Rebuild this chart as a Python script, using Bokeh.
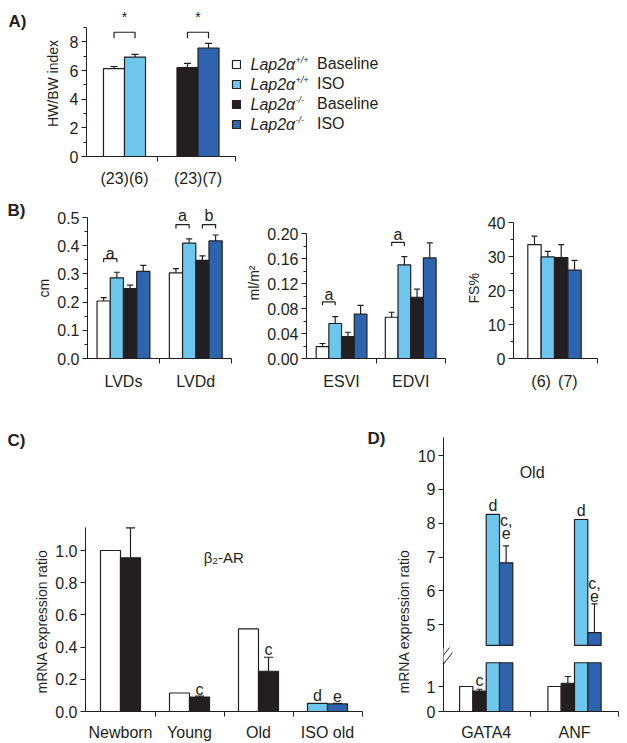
import math
from bokeh.plotting import figure
from bokeh.layouts import row, column
from bokeh.models import (FixedTicker, Whisker, TeeHead, Label, Legend, LegendItem,
                          ColumnDataSource, Range1d, NumeralTickFormatter, Arrow,
                          BoxAnnotation, Title)
from bokeh.core.properties import value
from bokeh.embed import file_html
from bokeh.resources import INLINE

# ---------------------------------------------------------------- data
# Panel A: heart weight / body weight index
a_n_labels = ["(23)(6)", "(23)(7)"]
a_baseline = [6.13, 6.20]          # Lap2a+/+ baseline, Lap2a-/- baseline
a_baseline_err = [0.15, 0.30]
a_iso = [6.94, 7.57]               # Lap2a+/+ ISO, Lap2a-/- ISO
a_iso_err = [0.18, 0.33]

# Panel B (left): LV dimensions, cm
b_dim_labels = ["LVDs", "LVDd"]
b_dim_wt_base = [0.204, 0.304]
b_dim_wt_base_err = [0.012, 0.015]
b_dim_wt_iso = [0.286, 0.409]
b_dim_wt_iso_err = [0.020, 0.015]
b_dim_ko_base = [0.248, 0.348]
b_dim_ko_base_err = [0.012, 0.016]
b_dim_ko_iso = [0.309, 0.417]
b_dim_ko_iso_err = [0.021, 0.021]

# Panel B (middle): volume indices, ml/m2
b_vol_labels = ["ESVI", "EDVI"]
b_vol_wt_base = [0.019, 0.066]
b_vol_wt_base_err = [0.005, 0.008]
b_vol_wt_iso = [0.056, 0.150]
b_vol_wt_iso_err = [0.011, 0.013]
b_vol_ko_base = [0.035, 0.098]
b_vol_ko_base_err = [0.007, 0.013]
b_vol_ko_iso = [0.071, 0.161]
b_vol_ko_iso_err = [0.014, 0.024]

# Panel B (right): fractional shortening
b_fs_n_labels = ["(6)", "(7)"]
b_fs_values = [33.5, 29.9, 29.7, 26.0]   # wt base, wt ISO, ko base, ko ISO
b_fs_err = [2.5, 1.6, 3.8, 2.9]

# Panel C: beta2-AR mRNA
c_labels = ["Newborn", "Young", "Old", "ISO old"]
c_wt = [1.0, 0.115, 0.513, 0.050]
c_ko = [0.955, 0.090, 0.250, 0.047]
c_ko_err = [0.185, 0.005, 0.087, 0.004]

# Panel D: GATA4 / ANF mRNA (old)
d_labels = ["GATA4", "ANF"]
d_wt_base = [1.0, 1.0]
d_ko_base = [0.82, 1.13]
d_ko_base_err = [0.07, 0.27]
d_wt_iso = [8.26, 8.11]
d_ko_iso = [6.83, 4.77]
d_ko_iso_err = [0.50, 0.85]

# ---------------------------------------------------------------- style
FONT = "Liberation Sans"
INK = "#231f20"
WHITE = "#ffffff"
CYAN = "#6cc6ee"
BLACK = "#231f20"
BLUE = "#2e64ad"
LW = 1.2
TICK_FS = "16px"
TITLE_FS = "14px"
LETTER_FS = "16px"


def make_fig(width, height, xr, yr, left, right, top, bottom, **kw):
    p = figure(width=width, height=height, x_range=xr, y_range=yr,
               output_backend="svg", toolbar_location=None,
               min_border_left=left, min_border_right=right,
               min_border_top=top, min_border_bottom=bottom, **kw)
    p.outline_line_color = None
    p.xgrid.visible = False
    p.ygrid.visible = False
    return p


def letter_fig(text, width, height, top, bottom, x, baseline):
    """baseline: distance in px of the text baseline from the top of the row"""
    fh = height - top - bottom
    p = make_fig(width, height, Range1d(0, width), Range1d(0, fh), 0, 0, top, bottom,
                 x_axis_location=None, y_axis_location=None)
    p.text(x=[x], y=[fh - (baseline - top)], text=[text], text_font=value(FONT),
           text_font_size="17px", text_font_style="bold", text_color=INK,
           text_align="left", text_baseline="alphabetic")
    return p


def style_common(axis):
    axis.axis_line_color = INK
    axis.axis_line_width = 1
    axis.major_label_text_font = FONT
    axis.major_label_text_font_size = TICK_FS
    axis.major_label_text_color = INK
    axis.axis_label_text_font = FONT
    axis.axis_label_text_font_size = TITLE_FS
    axis.axis_label_text_font_style = "normal"
    axis.axis_label_text_color = INK


def style_y(axis, ticks, minor, fmt, bounds, label=None, overrides=None):
    style_common(axis)
    axis.ticker = FixedTicker(ticks=ticks, minor_ticks=minor)
    axis.formatter = NumeralTickFormatter(format=fmt)
    if overrides:
        axis.major_label_overrides = overrides
    axis.bounds = bounds
    axis.major_tick_line_color = INK
    axis.major_tick_out = 5
    axis.major_tick_in = 0
    axis.minor_tick_line_color = INK
    axis.minor_tick_out = 3
    axis.minor_tick_in = 0
    axis.major_label_standoff = 3
    axis.axis_label_standoff = 6
    if label:
        axis.axis_label = label


def style_x(axis, label_ticks, labels, boundaries, bounds, standoff=8):
    style_common(axis)
    axis.ticker = FixedTicker(ticks=label_ticks, minor_ticks=boundaries)
    axis.major_label_overrides = {t: l for t, l in zip(label_ticks, labels)}
    axis.bounds = bounds
    axis.major_tick_line_color = None
    axis.major_tick_out = 0
    axis.major_tick_in = 0
    axis.minor_tick_line_color = INK
    axis.minor_tick_out = 5
    axis.minor_tick_in = 0
    axis.major_label_standoff = standoff


def side_title(p, text, offset):
    p.add_layout(Title(text=text, align="left", offset=offset, text_font=FONT,
                       text_font_size=TITLE_FS, text_font_style="normal",
                       text_color=INK, standoff=6), "left")


def bars(p, xs, tops, colors, width, bottom=0, **kw):
    return p.vbar(x=xs, top=tops, bottom=bottom, width=width, fill_color=colors,
                  line_color=INK, line_width=LW, **kw)


def errbars(p, xs, tops, errs, head=7, **kw):
    src = ColumnDataSource(dict(base=list(xs), lower=list(tops),
                                upper=[t + e for t, e in zip(tops, errs)]))
    w = Whisker(source=src, base="base", lower="lower", upper="upper",
                dimension="height", line_color=INK, line_width=LW,
                lower_head=None, level="glyph",
                upper_head=TeeHead(size=head, line_color=INK, line_width=LW), **kw)
    p.add_layout(w)


def brackets(p, pairs, tops, legs):
    xs = [[a, a, b, b] for a, b in pairs]
    ys = [[l, t, t, l] for t, l in zip(tops, legs)]
    p.multi_line(xs=xs, ys=ys, line_color=INK, line_width=LW)


def letters(p, xs, ys, texts, size=LETTER_FS, **kw):
    p.text(x=xs, y=ys, text=texts, text_font=value(FONT), text_font_size=size,
           text_color=INK, text_align="center", text_baseline="alphabetic", **kw)


def screen_label(p, text, x, y, size="16px", style="normal", **kw):
    p.add_layout(Label(x=x, y=y, x_units="screen", y_units="screen", text=text,
                       text_font=FONT, text_font_size=size, text_font_style=style,
                       text_color=INK, **kw))


# ---------------------------------------------------------------- row A (y 0..190)
A_H, A_TOP, A_BOT = 190, 10, 34          # frame 10..156
A_PX, A_PY = 73.5, 14.33
A_X0 = (86 - 124) / A_PX
lblA = letter_fig("A)", 30, A_H, A_TOP, A_BOT, 8, 21)
pA = make_fig(597, A_H, Range1d(A_X0, A_X0 + 314 / A_PX), Range1d(0, 146 / A_PY),
              56, 227, A_TOP, A_BOT)
aw = 0.286
ax = list(range(len(a_n_labels)))
ax_base = [x - aw / 2 for x in ax]
ax_iso = [x + aw / 2 for x in ax]
r_a_base = bars(pA, ax_base, a_baseline, [WHITE, BLACK], aw)
r_a_iso = bars(pA, ax_iso, a_iso, [CYAN, BLUE], aw)
errbars(pA, ax_base, a_baseline, a_baseline_err)
errbars(pA, ax_iso, a_iso, a_iso_err)
brackets(pA, list(zip(ax_base, ax_iso)), [8.67, 8.67], [8.25, 8.25])
letters(pA, ax, [9.7, 9.7], ["*", "*"], size="14px")
style_x(pA.xaxis[0], ax, a_n_labels, [0.45, 1.51], (A_X0, 1.51))
style_y(pA.yaxis[0], [0, 2, 4, 6, 8], [1, 3, 5, 7, 9], "0", (0, 9), "HW/BW index")

legend_items = [LegendItem(label="Baseline", renderers=[r_a_base], index=0),
                LegendItem(label="ISO", renderers=[r_a_iso], index=0),
                LegendItem(label="Baseline", renderers=[r_a_base], index=1),
                LegendItem(label="ISO", renderers=[r_a_iso], index=1)]
legA = Legend(items=legend_items, location=(145, 23), orientation="vertical",
              glyph_width=10, glyph_height=10, label_height=18, spacing=2,
              label_standoff=76, padding=0, margin=0, border_line_color=None,
              background_fill_alpha=0, label_text_font=FONT,
              label_text_font_size="16px", label_text_color=INK)
pA.add_layout(legA)
for rc, sup in zip([64, 84, 104, 124], ["+/+", "+/+", "-/-", "-/-"]):
    screen_label(pA, "Lap2α", 250 - 86, 156 - rc, style="italic", text_baseline="middle")
    screen_label(pA, sup, 295 - 86, 156 - rc + 5, size="9px", style="italic",
                 text_baseline="middle")

# ---------------------------------------------------------------- row B (y 190..392)
B_Y0 = 190
B_H, B_TOP, B_BOT = 202, 6, 32           # frame 196..360
B_FH = B_H - B_TOP - B_BOT
B_OFFS = [-1.5, -0.5, 0.5, 1.5]
B_COLORS = [WHITE, CYAN, BLACK, BLUE]


def grouped(p, centers, series, errs, bw):
    for off, vals, ers, col in zip(B_OFFS, series, errs, B_COLORS):
        xs = [c + off * bw for c in centers]
        bars(p, xs, vals, col, bw)
        errbars(p, xs, vals, ers, head=6)


lblB = letter_fig("B)", 30, B_H, B_TOP, B_BOT, 7, 210 - B_Y0)

# B1
B1_PX = 72.8
B1_X0 = (86 - 122.2) / B1_PX
pB1 = make_fig(210, B_H, Range1d(B1_X0, B1_X0 + 150 / B1_PX), Range1d(0, B_FH / 285.4),
               56, 4, B_TOP, B_BOT)
bw1 = 13.3 / B1_PX
bx = list(range(len(b_dim_labels)))
grouped(pB1, bx,
        [b_dim_wt_base, b_dim_wt_iso, b_dim_ko_base, b_dim_ko_iso],
        [b_dim_wt_base_err, b_dim_wt_iso_err, b_dim_ko_base_err, b_dim_ko_iso_err], bw1)
brackets(pB1, [(0 - 1.5 * bw1, 0 - 0.5 * bw1), (1 - 1.5 * bw1, 1 - 0.5 * bw1),
               (1 + 0.5 * bw1, 1 + 1.5 * bw1)],
         [0.354, 0.475, 0.475], [0.341, 0.461, 0.461])
letters(pB1, [0 - bw1, 1 - bw1, 1 + bw1], [0.372, 0.508, 0.508], ["a", "a", "b"])
style_x(pB1.xaxis[0], bx, b_dim_labels, [0.5, 1.5], (-0.5, 1.5), standoff=9)
style_y(pB1.yaxis[0], [0, 0.1, 0.2, 0.3, 0.4, 0.5], [0.05, 0.15, 0.25, 0.35, 0.45],
        "0.0", (0, 0.5))
side_title(pB1, "cm", 360 - 299)

# B2
B2_PX = 73.0
B2_X0 = (298 - 335) / B2_PX
pB2 = make_fig(220, B_H, Range1d(B2_X0, B2_X0 + 152 / B2_PX), Range1d(0, B_FH / 632.5),
               58, 10, B_TOP, B_BOT)
bw2 = 13.4 / B2_PX
grouped(pB2, bx,
        [b_vol_wt_base, b_vol_wt_iso, b_vol_ko_base, b_vol_ko_iso],
        [b_vol_wt_base_err, b_vol_wt_iso_err, b_vol_ko_base_err, b_vol_ko_iso_err], bw2)
brackets(pB2, [(0 - 1.5 * bw2, 0 - 0.5 * bw2), (1 - 1.5 * bw2, 1 - 0.5 * bw2)],
         [0.0906, 0.186], [0.0854, 0.180])
letters(pB2, [0 - bw2, 1 - bw2], [0.102, 0.199], ["a", "a"])
style_x(pB2.xaxis[0], bx, b_vol_labels, [0.5, 1.5], (-0.5, 1.5), standoff=9)
style_y(pB2.yaxis[0], [0, 0.04, 0.08, 0.12, 0.16, 0.20], [0.02, 0.06, 0.10, 0.14, 0.18],
        "0.00", (0, 0.20))
side_title(pB2, "ml/m²", 360 - 302)

# B3 (x unit = one bar width)
B3_PX = 13.35
B3_X0 = (513 - 554) / B3_PX
B3_END = (596.7 - 554) / B3_PX
pB3 = make_fig(167, B_H, Range1d(B3_X0, B3_X0 + 87 / B3_PX), Range1d(0, B_FH / 3.44),
               53, 27, B_TOP, B_BOT)
b3x = B_OFFS
bars(pB3, b3x, b_fs_values, B_COLORS, 1.0)
errbars(pB3, b3x, b_fs_values, b_fs_err, head=6)
style_x(pB3.xaxis[0], [-1.0, 1.0], b_fs_n_labels, [B3_END], (B3_X0, B3_END), standoff=9)
style_y(pB3.yaxis[0], [0, 10, 20, 30, 40], [5, 15, 25, 35], "0", (0, 40))
side_title(pB3, "FS%", 360 - 305)

# ---------------------------------------------------------------- row C/D (y 392..743)
CD_Y0 = 392
CD_H, CD_TOP, CD_BOT = 351, 28, 32       # frame 420..711
CD_FH = CD_H - CD_TOP - CD_BOT

lblC = letter_fig("C)", 27, CD_H, CD_TOP, CD_BOT, 7, 440 - CD_Y0)

C_PX, C_PY = 69.0, 161.0
C_X0 = (85 - 120) / C_PX
pC = make_fig(337, CD_H, Range1d(C_X0, C_X0 + 279 / C_PX), Range1d(0, CD_FH / C_PY),
              58, 0, CD_TOP, CD_BOT)
cw = 20 / C_PX
cx = list(range(len(c_labels)))
cx_wt = [x - cw / 2 for x in cx]
cx_ko = [x + cw / 2 for x in cx]
bars(pC, cx_wt, c_wt, [WHITE, WHITE, WHITE, CYAN], cw)
bars(pC, cx_ko, c_ko, [BLACK, BLACK, BLACK, BLUE], cw)
errbars(pC, cx_ko, c_ko, c_ko_err, head=9)
letters(pC, [cx_ko[1], cx_ko[2], cx_wt[3], cx_ko[3]], [0.134, 0.388, 0.099, 0.099],
        ["c", "c", "d", "e"])
letters(pC, [1.497], [0.957], ["β₂-AR"], size="15px")
style_x(pC.xaxis[0], cx, c_labels, [0.5, 1.5, 2.5, 3.5], (C_X0, 3.5), standoff=7)
style_y(pC.yaxis[0], [0, 0.2, 0.4, 0.6, 0.8, 1.0], [], "0.0", (0, 1.145))
side_title(pC, "mRNA expression ratio", 711 - 693)

lblD = letter_fig("D)", 26, CD_H, CD_TOP, CD_BOT, 3, 438 - CD_Y0)

D_PX = 88.3
D_X0 = (443 - 485.7) / D_PX
D_MAIN_PY, D_LOW_PY = 33.86, 25.0
D_MAIN_START = 10 - (711 - 455) / D_MAIN_PY
D_BREAK_HIGH = 4.39      # upper segment starts here
D_BREAK_LOW = 1.95       # lower segment ends here
pD = make_fig(237, CD_H, Range1d(D_X0, D_X0 + 184 / D_PX),
              Range1d(D_MAIN_START, D_MAIN_START + CD_FH / D_MAIN_PY),
              53, 0, CD_TOP, CD_BOT)
pD.extra_y_ranges = {"low": Range1d(0, CD_FH / D_LOW_PY)}
dw = 13.3 / D_PX
dx = list(range(len(d_labels)))
x_wtb = [x - 1.5 * dw for x in dx]
x_kob = [x - 0.5 * dw for x in dx]
x_wti = [x + 0.5 * dw for x in dx]
x_koi = [x + 1.5 * dw for x in dx]
# lower segment
bars(pD, x_wtb, d_wt_base, WHITE, dw, y_range_name="low")
bars(pD, x_kob, d_ko_base, BLACK, dw, y_range_name="low")
errbars(pD, x_kob, d_ko_base, d_ko_base_err, head=6, y_range_name="low")
bars(pD, x_wti, [D_BREAK_LOW] * len(dx), CYAN, dw, y_range_name="low")
bars(pD, x_koi, [D_BREAK_LOW] * len(dx), BLUE, dw, y_range_name="low")
# upper segment
bars(pD, x_wti, d_wt_iso, CYAN, dw, bottom=D_BREAK_HIGH)
bars(pD, x_koi, d_ko_iso, BLUE, dw, bottom=D_BREAK_HIGH)
errbars(pD, x_koi, d_ko_iso, d_ko_iso_err, head=6)
letters(pD, [x_kob[0]], [1.23], ["c"], y_range_name="low")
letters(pD, [x_wti[0], x_koi[0], x_koi[0], x_wti[1], x_koi[1], x_koi[1]],
        [8.52, 8.08, 7.72, 8.38, 6.22, 5.86], ["d", "c,", "e", "d", "c,", "e"])
letters(pD, [0.52], [9.5], ["Old"])
low_to_main = lambda v: D_MAIN_START + v * D_LOW_PY / D_MAIN_PY
d_ticks = [low_to_main(0), low_to_main(1), 5, 6, 7, 8, 9, 10]
d_over = {low_to_main(0): "0", low_to_main(1): "1"}
style_x(pD.xaxis[0], dx, d_labels, [0.5, 1.5], (D_X0, 1.5), standoff=7)
style_y(pD.yaxis[0], d_ticks, [], "0", (D_MAIN_START, 10.53), None, d_over)
side_title(pD, "mRNA expression ratio", 711 - 693)
# axis break
pD.add_layout(BoxAnnotation(left=-5, right=4, bottom=711 - 661, top=711 - 648,
                            left_units="screen", right_units="screen",
                            bottom_units="screen", top_units="screen",
                            fill_color="white", fill_alpha=1, line_color=None))
for (x0, y0, x1, y1) in [(435, 665, 449, 647), (438, 670, 452, 652)]:
    pD.add_layout(Arrow(x_start=x0 - 443, y_start=711 - y0, x_end=x1 - 443, y_end=711 - y1,
                        start_units="screen", end_units="screen", start=None, end=None,
                        line_color=INK, line_width=1))

# ---------------------------------------------------------------- layout
layout = column(row(lblA, pA), row(lblB, pB1, pB2, pB3), row(lblC, pC, lblD, pD))
open("out.html", "w").write(file_html(layout, INLINE))
